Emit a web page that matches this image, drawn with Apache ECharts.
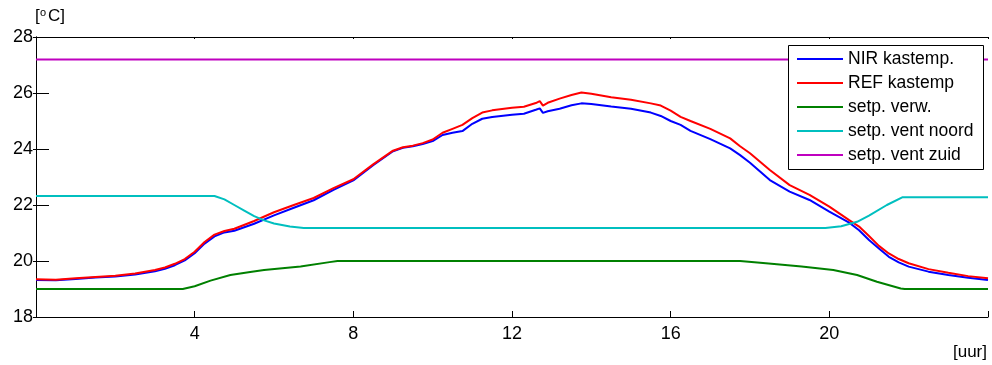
<!DOCTYPE html>
<html>
<head>
<meta charset="utf-8">
<title>Kastemperatuur NIR / REF</title>
<script src="https://cdn.jsdelivr.net/npm/echarts@6/dist/echarts.min.js"></script>
<style>
  html, body { margin: 0; padding: 0; background: #fff; }
  #chart { width: 992px; height: 365px; }
</style>
</head>
<body>
<div id="chart"></div>
<script>
// Greenhouse temperature over one day (hours) with heating / ventilation setpoints
const tempHours = [0, 0.5, 1, 1.5, 2, 2.5, 3, 3.25, 3.5, 3.75, 4, 4.25, 4.5, 4.75, 5, 5.5, 6, 6.5, 7, 7.5,
  8, 8.5, 9, 9.25, 9.5, 9.75, 10, 10.25, 10.5, 10.75, 11, 11.25, 11.5, 12, 12.3, 12.6, 12.7, 12.78, 12.9,
  13.2, 13.5, 13.75, 14, 14.5, 15, 15.5, 15.75, 16, 16.25, 16.5, 17, 17.5, 17.75, 18, 18.5, 19, 19.5, 20,
  20.5, 20.75, 21, 21.25, 21.5, 21.75, 22, 22.5, 23, 23.5, 24];

const nirTemp = [19.32, 19.31, 19.36, 19.41, 19.45, 19.52, 19.63, 19.72, 19.85, 20.02, 20.28, 20.62, 20.88, 21.02, 21.08, 21.33, 21.63, 21.9, 22.17, 22.54,
  22.88, 23.42, 23.92, 24.04, 24.1, 24.18, 24.28, 24.5, 24.58, 24.64, 24.9, 25.08, 25.14, 25.22, 25.26, 25.4, 25.45, 25.29, 25.35,
  25.44, 25.56, 25.63, 25.61, 25.52, 25.44, 25.3, 25.18, 25.0, 24.86, 24.65, 24.35, 24.02, 23.78, 23.51, 22.89, 22.48, 22.18, 21.76,
  21.37, 21.1, 20.75, 20.45, 20.15, 19.95, 19.8, 19.62, 19.5, 19.4, 19.32];

const refTemp = [19.35, 19.33, 19.38, 19.43, 19.47, 19.55, 19.68, 19.77, 19.9, 20.07, 20.33, 20.68, 20.94, 21.07, 21.15, 21.43, 21.74, 22.0, 22.25, 22.6,
  22.92, 23.45, 23.94, 24.06, 24.12, 24.21, 24.34, 24.58, 24.72, 24.86, 25.1, 25.3, 25.38, 25.47, 25.51, 25.64, 25.71, 25.55, 25.65,
  25.8, 25.93, 26.02, 25.97, 25.85, 25.76, 25.63, 25.55, 25.37, 25.15, 25.0, 24.72, 24.38, 24.1, 23.85, 23.25, 22.71, 22.36, 21.94,
  21.46, 21.23, 20.89, 20.54, 20.27, 20.07, 19.92, 19.71, 19.58, 19.46, 19.38];

const heatHours = [0, 3.7, 4.0, 4.4, 4.9, 5.4, 5.75, 6.67, 7.4, 7.6, 17.75, 18.4, 19.3, 20.1, 20.7, 21.2, 21.8, 21.9, 24];
const heatSetp  = [19.0, 19.0, 19.1, 19.3, 19.5, 19.61, 19.68, 19.8, 19.96, 20.0, 20.0, 19.92, 19.8, 19.68, 19.5, 19.26, 19.02, 19.0, 19.0];

const ventHours = [0, 4.5, 4.75, 5.0, 5.25, 5.5, 5.75, 6.0, 6.4, 6.75, 19.9, 20.3, 20.7, 21.0, 21.45, 21.85, 24];
const ventNorth = [22.32, 22.32, 22.2, 22.0, 21.8, 21.6, 21.45, 21.34, 21.23, 21.18, 21.18, 21.24, 21.4, 21.62, 22.0, 22.28, 22.28];

const southHours = [0, 24];
const ventSouth  = [27.2, 27.2];

const seriesNames = ['NIR kastemp.', 'REF kastemp', 'setp. verw.', 'setp. vent noord', 'setp. vent zuid'];
const seriesColors = ['#0000ff', '#ff0000', '#008000', '#00bfbf', '#bf00bf'];

const xTicks = { min: 0, max: 24, step: 4 };
const yTicks = { min: 18, max: 28, step: 2 };

function pairs(xs, ys) {
  return xs.map((x, i) => [x, ys[i]]);
}

const seriesData = [
  pairs(tempHours, nirTemp),
  pairs(tempHours, refTemp),
  pairs(heatHours, heatSetp),
  pairs(ventHours, ventNorth),
  pairs(southHours, ventSouth)
];

const FONT = '"Liberation Sans", Arial, sans-serif';
const axisLine = { show: true, lineStyle: { color: '#000', width: 1 } };

const chart = echarts.init(document.getElementById('chart'), null, { renderer: 'canvas' });

chart.setOption({
  animation: false,
  backgroundColor: '#fff',
  grid: { left: 36, right: 4, top: 37, bottom: 48, containLabel: false },
  xAxis: [
    {
      type: 'value', position: 'bottom',
      min: xTicks.min, max: xTicks.max, interval: xTicks.step,
      axisLine: axisLine,
      axisTick: { show: true, inside: true, length: 6, lineStyle: { color: '#000' } },
      splitLine: { show: false },
      axisLabel: {
        color: '#000', fontSize: 18, fontFamily: FONT, margin: 8,
        formatter: v => (v === xTicks.min || v === xTicks.max) ? '' : String(v)
      }
    },
    {
      type: 'value', position: 'top',
      min: xTicks.min, max: xTicks.max, interval: xTicks.step,
      axisLine: axisLine,
      axisTick: { show: true, inside: true, length: 2, lineStyle: { color: '#000' } },
      splitLine: { show: false },
      axisLabel: { show: false }
    }
  ],
  yAxis: [
    {
      type: 'value', position: 'left',
      min: yTicks.min, max: yTicks.max, interval: yTicks.step,
      axisLine: axisLine,
      axisTick: { show: true, inside: true, length: 13, lineStyle: { color: '#000' } },
      splitLine: { show: false },
      axisLabel: { color: '#000', fontSize: 18, fontFamily: FONT, margin: 3 }
    },
    {
      type: 'value', position: 'right',
      min: yTicks.min, max: yTicks.max, interval: yTicks.step,
      axisLine: axisLine,
      axisTick: { show: true, inside: true, length: 3, lineStyle: { color: '#000' } },
      splitLine: { show: false },
      axisLabel: { show: false }
    }
  ],
  legend: {
    orient: 'vertical',
    left: 797, top: 47,
    padding: 0,
    icon: 'rect',
    itemWidth: 46, itemHeight: 2, itemGap: 0,
    selectedMode: false,
    z: 20,
    textStyle: { color: '#000', fontSize: 17.5, fontFamily: FONT, lineHeight: 24 },
    data: seriesNames
  },
  graphic: [
    {
      type: 'rect', z: 10,
      shape: { x: 788.5, y: 45.5, width: 195, height: 124 },
      style: { fill: '#fff', stroke: '#000', lineWidth: 1 }
    },
    { type: 'text', left: 35, top: 8, style: { text: '[', font: '17px ' + FONT, fill: '#000' } },
    { type: 'text', left: 40, top: 7, style: { text: 'o', font: '11px ' + FONT, fill: '#000' } },
    { type: 'text', left: 48, top: 8, style: { text: 'C]', font: '17px ' + FONT, fill: '#000' } },
    {
      type: 'text', x: 987, y: 352,
      style: { text: '[uur]', font: '17px ' + FONT, fill: '#000', textAlign: 'right', textVerticalAlign: 'middle' }
    }
  ],
  series: seriesNames.map((name, i) => ({
    name: name,
    type: 'line',
    xAxisIndex: 0,
    yAxisIndex: 0,
    data: seriesData[i],
    symbol: 'none',
    showSymbol: false,
    smooth: false,
    color: seriesColors[i],
    lineStyle: { color: seriesColors[i], width: 2 },
    z: 2
  }))
});
</script>
</body>
</html>
